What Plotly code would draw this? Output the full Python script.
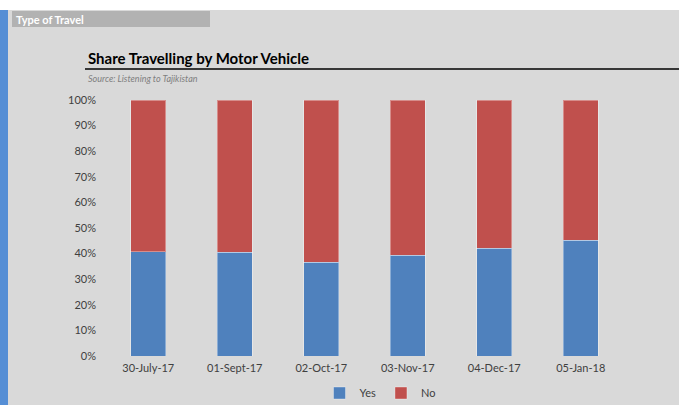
import plotly.graph_objects as go

categories = ["30-July-17", "01-Sept-17", "02-Oct-17", "03-Nov-17", "04-Dec-17", "05-Jan-18"]
yes_share = [0.407, 0.406, 0.366, 0.393, 0.421, 0.452]
no_share = [round(1 - v, 3) for v in yes_share]
y_ticks = [i / 10 for i in range(11)]
y_tick_labels = [f"{i * 10}%" for i in range(11)]

W, H = 679, 405
L, R, T, B = 105, 624, 100, 356

def px(x):
    return (x - L) / (R - L)

def py(y):
    return (B - y) / (B - T)

FONT = "Lato, 'Open Sans', sans-serif"
TXT = "#404040"

fig = go.Figure()
fig.add_bar(x=categories, y=yes_share, name="Yes", marker=dict(color="#4F81BD", line=dict(color="rgba(255,255,255,0.35)", width=1)))
fig.add_bar(x=categories, y=no_share, name="No", marker=dict(color="#C0504D", line=dict(color="rgba(255,255,255,0.35)", width=1)))

shapes = [
    dict(type="rect", xref="paper", yref="paper", x0=px(-5), x1=px(W + 5), y0=py(-5), y1=py(10), fillcolor="white", line_width=0, layer="below"),
    dict(type="rect", xref="paper", yref="paper", x0=px(-5), x1=px(8), y0=py(10), y1=py(H + 5), fillcolor="#558ED5", line_width=0, layer="below"),
    dict(type="rect", xref="paper", yref="paper", x0=px(12), x1=px(210), y0=py(11), y1=py(27), fillcolor="#B2B2B2", line_width=0, layer="below"),
    dict(type="line", xref="paper", yref="paper", x0=px(85), x1=px(W), y0=py(69), y1=py(69), line=dict(color="black", width=1.5)),
]

annotations = [
    dict(text="<b>Type of Travel</b>", xref="paper", yref="paper", x=px(14), y=py(19), xanchor="left", yanchor="middle", showarrow=False, font=dict(family=FONT, size=11, color="white")),
    dict(text="<b>Share Travelling by Motor Vehicle</b>", xref="paper", yref="paper", x=px(86), y=py(69), xanchor="left", yanchor="bottom", showarrow=False, font=dict(family=FONT, size=15, color="black")),
    dict(text="<i>Source: Listening to Tajikistan</i>", xref="paper", yref="paper", x=px(86), y=py(78), xanchor="left", yanchor="middle", showarrow=False, font=dict(family=FONT, size=9, color="#7F7F7F")),
]

fig.update_layout(
    width=W, height=H,
    margin=dict(l=L, r=W - R, t=T, b=H - B, autoexpand=False),
    paper_bgcolor="#D9D9D9", plot_bgcolor="#D9D9D9",
    barmode="stack", bargap=0.595,
    showlegend=True,
    legend=dict(orientation="h", x=px(380), xanchor="center", y=py(393), yanchor="middle",
                traceorder="normal",
                font=dict(family=FONT, size=11, color=TXT), bgcolor="rgba(0,0,0,0)",
                itemwidth=30, tracegroupgap=0),
    shapes=shapes, annotations=annotations,
    font=dict(family=FONT, size=11, color=TXT),
)
fig.update_yaxes(range=[0, 1], tickvals=y_ticks, ticktext=y_tick_labels, showgrid=False, zeroline=False,
                 showline=False, ticks="", ticklabelstandoff=8, tickfont=dict(family=FONT, size=11, color=TXT))
fig.update_xaxes(showgrid=False, showline=False, ticks="", tickfont=dict(family=FONT, size=11, color=TXT), ticklabelstandoff=4)

fig.write_html("out.html", config={"displayModeBar": False}, post_script="document.body.style.margin='0';")
